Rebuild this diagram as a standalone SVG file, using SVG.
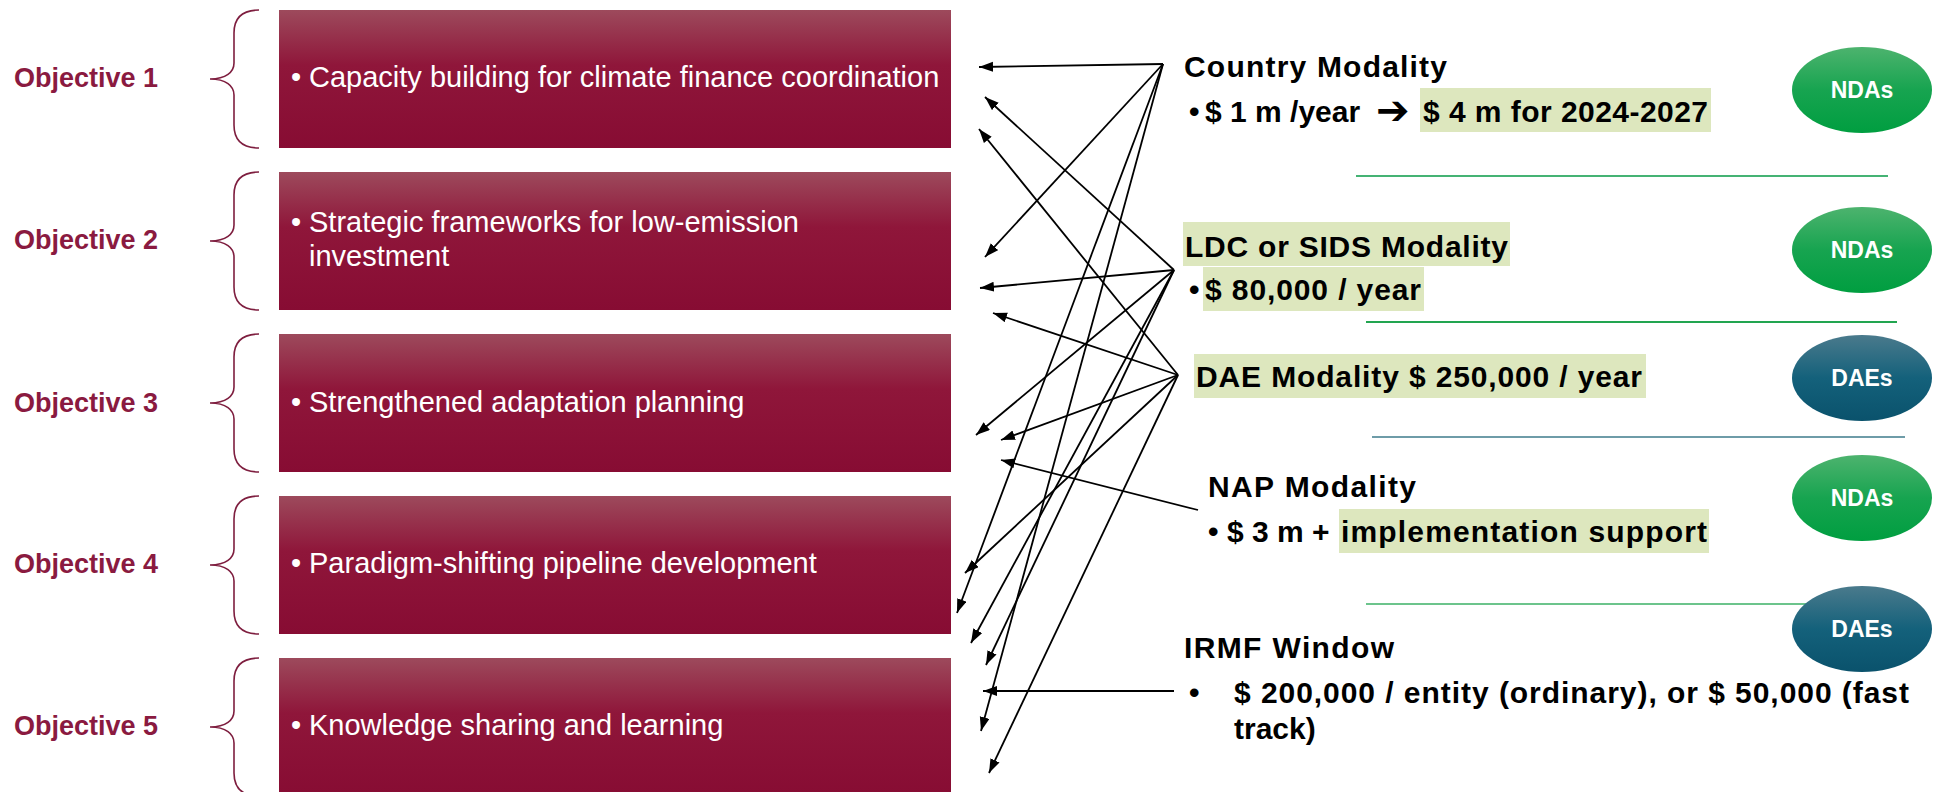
<svg xmlns="http://www.w3.org/2000/svg" width="1938" height="792" viewBox="0 0 1938 792">
<defs>
<linearGradient id="boxGrad" x1="0" y1="0" x2="0" y2="1">
<stop offset="0" stop-color="#9D4A5C"/>
<stop offset="0.4" stop-color="#8F163A"/>
<stop offset="1" stop-color="#870C33"/>
</linearGradient>
<linearGradient id="ndaGrad" x1="0" y1="0" x2="0" y2="1">
<stop offset="0" stop-color="#4DB36E"/>
<stop offset="0.5" stop-color="#17A450"/>
<stop offset="1" stop-color="#009E40"/>
</linearGradient>
<linearGradient id="daeGrad" x1="0" y1="0" x2="0" y2="1">
<stop offset="0" stop-color="#4A7A8C"/>
<stop offset="0.5" stop-color="#14617B"/>
<stop offset="1" stop-color="#0A526C"/>
</linearGradient>
<marker id="arrow" markerWidth="15" markerHeight="11" refX="14" refY="5" orient="auto" markerUnits="userSpaceOnUse">
<path d="M0,0 L14,5 L0,10 z" fill="#000"/>
</marker>
</defs>
<style>
.label{font-family:"Liberation Sans",Arial,sans-serif;font-weight:bold;font-size:27px;fill:#8A1A40}
.brace{fill:none;stroke:#7E1E3F;stroke-width:1.6}
.box{fill:url(#boxGrad)}
.btext{font-family:"Liberation Sans",Arial,sans-serif;font-size:29px;fill:#ffffff}
.mtext{font-family:"Liberation Sans",Arial,sans-serif;font-weight:bold;font-size:30px;fill:#000000}
.arr{font-family:"DejaVu Sans",sans-serif;font-weight:bold;font-size:40px;fill:#000000}
.hl{fill:#DDE7BE}
.sep{stroke-width:2;fill:none}
.nda{fill:url(#ndaGrad)}
.dae{fill:url(#daeGrad)}
.etext{font-family:"Liberation Sans",Arial,sans-serif;font-weight:bold;font-size:23px;fill:#ffffff;text-anchor:middle}
.conn line{stroke:#000000;stroke-width:1.8;marker-end:url(#arrow)}
</style>

<g id="objective1">
<text class="label" x="14" y="87">Objective 1</text>
<path class="brace" d="M259,10 C245,10 234,16 234,33 L234,63 C234,72 226,79 210,79 C226,79 234,86 234,95 L234,125 C234,142 245,148 259,148"/>
<rect class="box" x="279" y="10" width="672" height="138"/>
<text class="btext" x="291" y="87">•</text>
<text class="btext" x="309" y="87">Capacity building for climate finance coordination</text>
</g>

<g id="objective2">
<text class="label" x="14" y="249">Objective 2</text>
<path class="brace" d="M259,172 C245,172 234,178 234,195 L234,225 C234,234 226,241 210,241 C226,241 234,248 234,257 L234,287 C234,304 245,310 259,310"/>
<rect class="box" x="279" y="172" width="672" height="138"/>
<text class="btext" x="291" y="232">•</text>
<text class="btext" x="309" y="232">Strategic frameworks for low-emission</text>
<text class="btext" x="309" y="266">investment</text>
</g>

<g id="objective3">
<text class="label" x="14" y="412">Objective 3</text>
<path class="brace" d="M259,334 C245,334 234,340 234,357 L234,387 C234,396 226,403 210,403 C226,403 234,410 234,419 L234,449 C234,466 245,472 259,472"/>
<rect class="box" x="279" y="334" width="672" height="138"/>
<text class="btext" x="291" y="412">•</text>
<text class="btext" x="309" y="412">Strengthened adaptation planning</text>
</g>

<g id="objective4">
<text class="label" x="14" y="573">Objective 4</text>
<path class="brace" d="M259,496 C245,496 234,502 234,519 L234,549 C234,558 226,565 210,565 C226,565 234,572 234,581 L234,611 C234,628 245,634 259,634"/>
<rect class="box" x="279" y="496" width="672" height="138"/>
<text class="btext" x="291" y="573">•</text>
<text class="btext" x="309" y="573">Paradigm-shifting pipeline development</text>
</g>

<g id="objective5">
<text class="label" x="14" y="735">Objective 5</text>
<path class="brace" d="M259,658 C245,658 234,664 234,681 L234,711 C234,720 226,727 210,727 C226,727 234,734 234,743 L234,773 C234,790 245,796 259,796"/>
<rect class="box" x="279" y="658" width="672" height="138"/>
<text class="btext" x="291" y="735">•</text>
<text class="btext" x="309" y="735">Knowledge sharing and learning</text>
</g>

<g id="separators">
<line class="sep" x1="1356" y1="176" x2="1888" y2="176" stroke="#45B374"/>
<line class="sep" x1="1366" y1="322" x2="1897" y2="322" stroke="#22A550"/>
<line class="sep" x1="1372" y1="437" x2="1905" y2="437" stroke="#6E9CA8"/>
<line class="sep" x1="1366" y1="604" x2="1897" y2="604" stroke="#6CC48C"/>
</g>

<g id="country-modality">
<rect class="hl" x="1420" y="88" width="291" height="44"/>
<text class="mtext" x="1184" y="77" textLength="263">Country Modality</text>
<text class="mtext" x="1189" y="122">•</text>
<text class="mtext" x="1205" y="122">$ 1 m /year</text>
<text class="arr" x="1376" y="124">➔</text>
<text class="mtext" x="1423" y="122" textLength="285">$ 4 m for 2024-2027</text>
</g>

<g id="ldc-sids-modality">
<rect class="hl" x="1183" y="222" width="327" height="44"/>
<text class="mtext" x="1185" y="257" textLength="323">LDC or SIDS Modality</text>
<rect class="hl" x="1203" y="267" width="221" height="44"/>
<text class="mtext" x="1189" y="300">•</text>
<text class="mtext" x="1205" y="300" textLength="216">$ 80,000 / year</text>
</g>

<g id="dae-modality">
<rect class="hl" x="1194" y="354" width="452" height="44"/>
<text class="mtext" x="1196" y="387" textLength="446">DAE Modality $ 250,000 / year</text>
</g>

<g id="nap-modality">
<text class="mtext" x="1208" y="497" textLength="208">NAP Modality</text>
<rect class="hl" x="1339" y="509" width="370" height="44"/>
<text class="mtext" x="1208" y="542">•</text>
<text class="mtext" x="1227" y="542">$ 3 m +</text>
<text class="mtext" x="1341" y="542" textLength="366">implementation support</text>
</g>

<g id="irmf-window">
<text class="mtext" x="1184" y="658" textLength="210">IRMF Window</text>
<text class="mtext" x="1189" y="703">•</text>
<text class="mtext" x="1234" y="703" textLength="675">$ 200,000 / entity (ordinary), or $ 50,000 (fast</text>
<text class="mtext" x="1234" y="739">track)</text>
</g>

<g id="nda-1">
<ellipse class="nda" cx="1862" cy="90" rx="70" ry="43"/>
<text class="etext" x="1862" y="98">NDAs</text>
</g>
<g id="nda-2">
<ellipse class="nda" cx="1862" cy="250" rx="70" ry="43"/>
<text class="etext" x="1862" y="258">NDAs</text>
</g>
<g id="dae-1">
<ellipse class="dae" cx="1862" cy="378" rx="70" ry="43"/>
<text class="etext" x="1862" y="386">DAEs</text>
</g>
<g id="nda-3">
<ellipse class="nda" cx="1862" cy="498" rx="70" ry="43"/>
<text class="etext" x="1862" y="506">NDAs</text>
</g>
<g id="dae-2">
<ellipse class="dae" cx="1862" cy="629" rx="70" ry="43"/>
<text class="etext" x="1862" y="637">DAEs</text>
</g>

<g id="connectors" class="conn">
<line x1="1163" y1="64" x2="979" y2="67"/>
<line x1="1174" y1="270" x2="985" y2="97"/>
<line x1="1178" y1="375" x2="979" y2="129"/>
<line x1="1163" y1="64" x2="985" y2="257"/>
<line x1="1174" y1="270" x2="980" y2="288"/>
<line x1="1178" y1="375" x2="993" y2="313"/>
<line x1="1174" y1="270" x2="976" y2="435"/>
<line x1="1178" y1="375" x2="1001" y2="440"/>
<line x1="1198" y1="510" x2="1001" y2="460"/>
<line x1="1178" y1="375" x2="965" y2="573"/>
<line x1="1163" y1="64" x2="957" y2="613"/>
<line x1="1174" y1="270" x2="971" y2="643"/>
<line x1="1174" y1="270" x2="986" y2="665"/>
<line x1="1174" y1="691" x2="983" y2="691"/>
<line x1="1163" y1="64" x2="981" y2="731"/>
<line x1="1178" y1="375" x2="989" y2="773"/>
</g>
</svg>
